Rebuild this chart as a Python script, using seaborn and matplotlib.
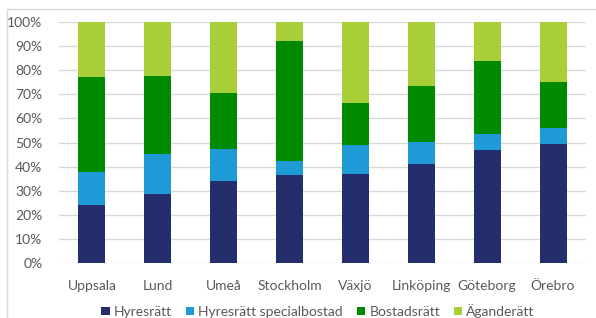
import matplotlib
matplotlib.use('Agg')
import matplotlib.pyplot as plt
from matplotlib.patches import Patch, Rectangle
import seaborn as sns
import pandas as pd
import numpy as np

# Chart data (share of dwellings per tenure form, in %)
cities = ['Uppsala', 'Lund', 'Umeå', 'Stockholm', 'Växjö', 'Linköping', 'Göteborg', 'Örebro']
hyresratt = [24.1, 28.6, 34.1, 36.5, 37.1, 41.1, 47.0, 49.4]
hyresratt_special = [13.8, 16.6, 13.2, 5.8, 11.7, 9.3, 6.5, 6.7]
bostadsratt = [39.2, 32.2, 23.3, 49.8, 17.7, 22.9, 30.1, 18.9]
aganderatt = [22.9, 22.6, 29.4, 7.9, 33.5, 26.7, 16.4, 25.0]

series = ['Hyresrätt', 'Hyresrätt specialbostad', 'Bostadsrätt', 'Äganderätt']
colors = ['#252E6C', '#1E9BD7', '#008A00', '#A8CE38']

df = pd.DataFrame({'Stad': cities,
                   series[0]: hyresratt,
                   series[1]: hyresratt_special,
                   series[2]: bostadsratt,
                   series[3]: aganderatt})

# cumulative totals, so each series is drawn from zero and overlapped
cum = df[series].cumsum(axis=1)

sns.set_style('white')
plt.rcParams['font.family'] = ['Lato', 'DejaVu Sans']

fig = plt.figure(figsize=(5.96, 3.18), dpi=100)
ax = fig.add_axes([59 / 596, 1 - 263.3 / 318, (586 - 59) / 596, (263.3 - 21.7) / 318])

# draw from the top series down so the lower ones sit in front
for name, col in reversed(list(zip(series, colors))):
    sns.barplot(x=df['Stad'], y=cum[name], color=col, width=0.41,
                linewidth=0, saturation=1, ax=ax, zorder=3)

ax.set_ylim(0, 100)
ax.set_xlim(-0.5, 7.5)
ax.set_yticks(np.arange(0, 101, 10))
ax.set_yticklabels([f'{v}%' for v in range(0, 101, 10)])
ax.yaxis.grid(True, color='#D9D9D9', linewidth=1, zorder=0)
ax.set_axisbelow(True)
for s in ax.spines.values():
    s.set_visible(False)
ax.set_xlabel('')
ax.set_ylabel('')
ax.tick_params(axis='both', length=0, labelsize=10, colors='#595959')
ax.tick_params(axis='y', pad=12)
ax.tick_params(axis='x', pad=12)

handles = [Patch(facecolor=c, edgecolor='none', label=s) for s, c in zip(series, colors)]
fig.legend(handles=handles, loc='center', bbox_to_anchor=(318 / 596, 1 - 311 / 318),
           ncol=4, frameon=False, fontsize=10, handlelength=0.6, handleheight=0.6,
           handletextpad=0.3, columnspacing=1.0, labelcolor='#595959')

# thin frame around the chart area
fig.patches.append(Rectangle((7 / 596, -0.1), 1.0, 1 - 9 / 318 + 0.1, transform=fig.transFigure,
                             fill=False, edgecolor='#D9D9D9', linewidth=1))

fig.savefig('out.png', dpi=100)
